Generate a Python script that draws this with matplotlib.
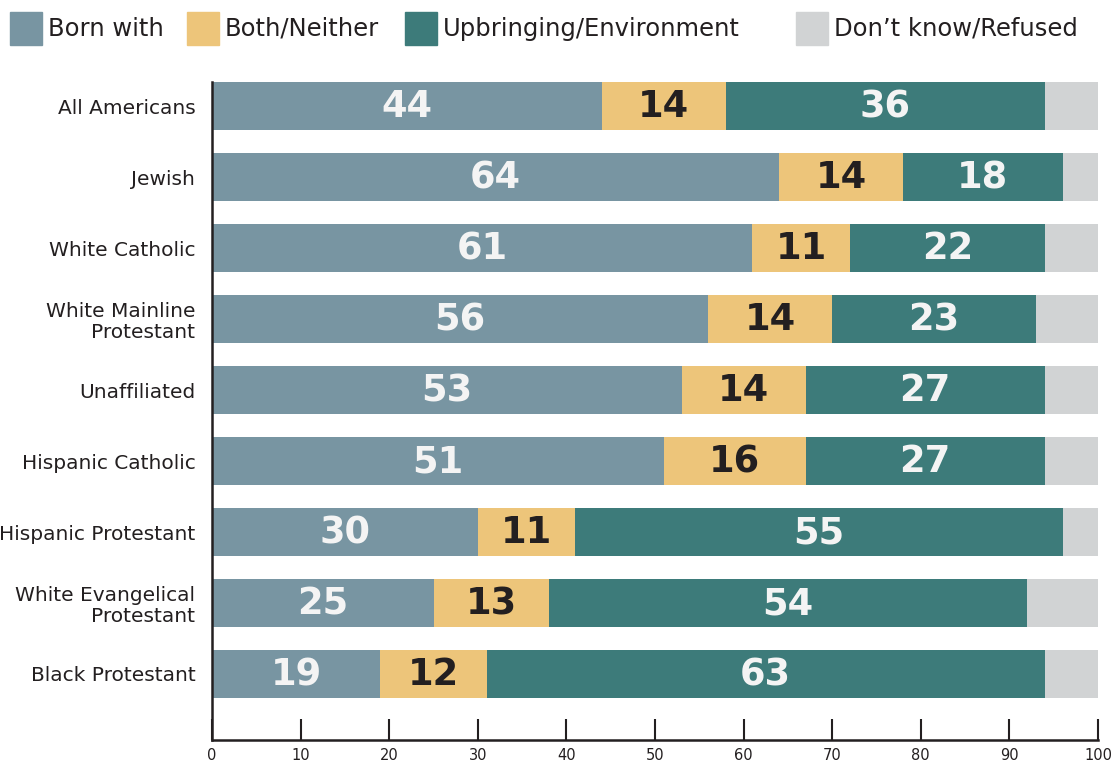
import numpy as np
import matplotlib.pyplot as plt
from matplotlib.patches import Rectangle

groups = ['All Americans', 'Jewish', 'White Catholic', 'White Mainline\nProtestant',
          'Unaffiliated', 'Hispanic Catholic', 'Hispanic Protestant',
          'White Evangelical\nProtestant', 'Black Protestant']
born_with = [44, 64, 61, 56, 53, 51, 30, 25, 19]
both_neither = [14, 14, 11, 14, 14, 16, 11, 13, 12]
upbringing = [36, 18, 22, 23, 27, 27, 55, 54, 63]
dont_know = [6, 4, 6, 7, 6, 6, 4, 8, 6]

series = ['Born with', 'Both/Neither', 'Upbringing/Environment', 'Don\u2019t know/Refused']
colors = ['#7895a2', '#edc57a', '#3d7b7a', '#d1d3d4']
txt_colors = ['#f4f4f4', '#231f20', '#f4f4f4', None]
dark = '#231f20'

plt.rcParams['font.family'] = ['DejaVu Sans']

fig = plt.figure(figsize=(11.16, 7.64), dpi=100)
ax = fig.add_axes([212/1116, 1-740/764, 886/1116, 658/764])

y = np.arange(len(groups))
left = np.zeros(len(groups))
for vals, c, tc in zip([born_with, both_neither, upbringing, dont_know], colors, txt_colors):
    vals = np.array(vals, dtype=float)
    ax.barh(y, vals, left=left, height=0.68, color=c, edgecolor='none')
    if tc is not None:
        for yi, l, v in zip(y, left, vals):
            ax.text(l + v/2, yi + 0.16, '%d' % v, ha='center', va='baseline',
                    color=tc, fontsize=26.5, fontweight='bold')
    left += vals

ax.set_xlim(0, 100)
ax.set_ylim(8.93, -0.34)
ax.set_xticks(np.arange(0, 101, 10))
ax.set_yticks(y)
ax.set_yticklabels(groups, fontsize=14.5, color=dark, linespacing=1.1)
ax.tick_params(axis='y', length=0, pad=12)
ax.tick_params(axis='x', direction='in', length=15, width=1.5, color=dark,
               labelsize=10.5, labelcolor=dark, pad=6)
for s in ['top', 'right']:
    ax.spines[s].set_visible(False)
for s in ['left', 'bottom']:
    ax.spines[s].set_color(dark)
    ax.spines[s].set_linewidth(1.8)

# legend along the top
patch_x = [10, 187, 405, 796]
for px, c, lab in zip(patch_x, colors, series):
    fig.patches.append(Rectangle((px/1116, 1-45/764), 32/1116, 33/764,
                                 transform=fig.transFigure, color=c))
    fig.text((px + 38)/1116, 1-29/764, lab, fontsize=17.5, color=dark,
             ha='left', va='center')

plt.savefig('out.png', dpi=100)
